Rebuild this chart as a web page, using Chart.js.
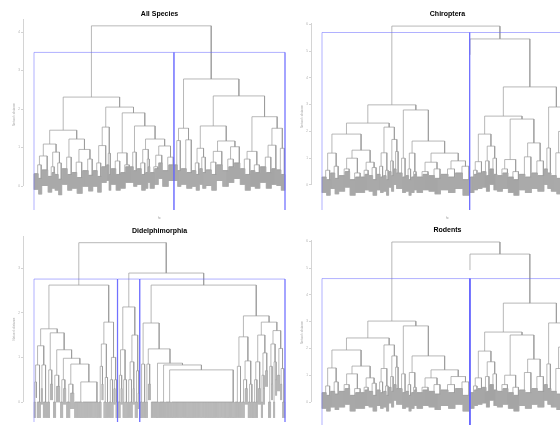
<!DOCTYPE html>
<html>
<head>
<meta charset="utf-8">
<script src="https://cdn.jsdelivr.net/npm/chart.js@4.4.1/dist/chart.umd.min.js"></script>
<style>
  body { margin: 0; background: #fff; width: 560px; height: 434px; overflow: hidden; position: relative; }
  canvas { position: absolute; }
</style>
</head>
<body>
<canvas id="allSpecies"></canvas>
<canvas id="chiroptera"></canvas>
<canvas id="didelphimorphia"></canvas>
<canvas id="rodents"></canvas>
<script>
// Trees: [height, left, right] is a merge, [height, n] is n leaves joined at the
// same height, a plain 1 is a single leaf.
const allSpeciesTree =
  [4.16,
    [2.31,
      [1.45,
        [1.09,
          [0.78, [0.55, [0.32, 9], [0.2, 7]], [0.42, 12]],
          [0.88, [0.5, [0.25, 8], [0.35, 6]], [0.6, [0.3, 7], [0.18, 7]]]],
        [1.22,
          [0.75, [0.45, 11], [0.3, 9]],
          [0.95, [0.62, [0.35, 10], [0.22, 11]], [0.7, [0.4, 12], [0.28, 9]]]]],
      [2.05,
        [1.53, [1.05, [0.6, [0.4, 9], [0.25, 8]], [0.5, 10]], [0.85, [0.55, 5], [0.3, 4]]],
        [1.9,
          [0.86, [0.65, [0.45, 10], [0.3, 9]], [0.55, [0.35, 10], [0.5, 9]]],
          [1.56,
            [0.88, [0.5, 7], [0.4, 7]],
            [1.22,
              [0.95, [0.6, [0.45, 9], [0.3, 8]], [0.7, [0.35, 5], [0.5, 4]]],
              [1.04,
                [0.8, [0.5, [0.35, 9], [0.45, 8]], [0.6, 8]],
                [0.75, [0.4, 12], [0.55, 11]]]]]]]],
    [2.78,
      [1.5, [1.18, [0.55, 7], [0.4, 7]], [1.2, [0.45, 11], [0.35, 11]]],
      [2.34,
        [1.56,
          [0.98, [0.6, [0.4, 8], [0.3, 7]], [0.75, [0.45, 6], [0.35, 7]]],
          [1.17,
            [0.9, [0.62, [0.42, 11], [0.3, 10]], [0.55, 12]],
            [1.02, [0.7, [0.4, 12], [0.5, 11]], [0.6, 12]]]],
        [1.8,
          [0.9, [0.7, [0.45, 10], [0.3, 11]], [0.55, [0.4, 9], [0.35, 10]]],
          [1.5,
            [1.06, [0.75, [0.5, 12], [0.35, 11]], [0.45, 10]],
            [0.98, [0.42, 9], [0.3, 8]]]]]]];

const chiropteraTree =
  [5.93,
    [2.99,
      [2.31,
        [1.9,
          [1.19, [0.55, [0.3, 9], [0.2, 8]], [0.7, [0.45, 9], [0.25, 8]]],
          [1.3,
            [1.0, [0.6, [0.35, 12], [0.5, 10]], [0.45, [0.2, 11], [0.3, 11]]],
            [0.85, [0.55, [0.3, 8], [0.4, 8]], [0.65, [0.35, 8], [0.2, 8]]]]],
        [2.16,
          [1.2, [0.7, [0.4, 7], [0.3, 6]], [0.55, [0.35, 6], [0.2, 5]]],
          [1.7, [0.9, [0.5, 5], [0.35, 5]], [1.25, [0.6, 5], [0.45, 5]]]]],
      [2.8,
        [1.0, [0.45, 7], [0.3, 7]],
        [1.64,
          [1.19, [0.6, [0.35, 6], [0.2, 5]], [0.5, [0.3, 6], [0.4, 5]]],
          [1.19,
            [0.85, [0.5, [0.3, 12], [0.4, 12]], [0.6, [0.35, 12], [0.25, 12]]],
            [0.9, [0.6, [0.4, 15], [0.3, 14]], [0.7, [0.45, 15], [0.2, 14]]]]]]],
    [5.45,
      1,
      [3.66,
        [2.57,
          [1.9,
            [0.87, [0.55, [0.3, 8], [0.4, 7]], [0.45, 9]],
            [1.45, [0.9, [0.5, 8], [0.35, 7]], [1.0, [0.6, 8], [0.4, 7]]]],
          [2.46,
            [0.95, [0.6, [0.35, 11], [0.45, 11]], [0.5, [0.3, 11], [0.2, 11]]],
            [1.57, [1.05, [0.4, 12], [0.3, 13]], [0.9, [0.45, 12], [0.35, 13]]]]],
        [2.91,
          [1.38, [0.6, 7], [0.45, 7]],
          [2.0, [1.2, [0.35, 11], [0.25, 11]], [0.9, [0.5, 11], [0.4, 11]]]]]]];

const didelphimorphiaTree =
  [3.57,
    [2.62,
      [1.64,
        [1.26, [0.83, [0.45, [0, 2], 1], [0, 4]], [0.83, [0.3, 2], [0, 4]]],
        [1.55,
          [0.72, [0, 3], [0.4, 3]],
          [1.17,
            [0.6, [0, 3], [0.35, 4]],
            [0.98,
              [0.5, [0, 3], [0.3, 3]],
              [0.85,
                [0.4, [0, 4], [0.2, 4]],
                [0.45, [0, 8], [0, 16]]]]]]],
      [1.79,
        [1.3, [0.8, [0, 3], [0.4, 2]], [0.55, [0, 3], [0, 2]]],
        [1.0, [0.5, [0, 3], [0, 2]], [0.5, [0.3, 2], [0, 2]]]]],
    [2.89,
      [2.13,
        [1.17, [0.6, [0, 3], [0.3, 2]], [0.5, [0, 2], [0, 3]]],
        [1.5, [0.9, [0.5, [0, 2], [0, 3]], [0.3, 2]], [0.7, [0, 3], [0.2, 2]]]],
      [2.62,
        [1.77,
          [0.85, [0, 3], [0, 3]],
          [1.19,
            [0.85, [0, 2], [0.4, 3]],
            [0.87, [0, 8], [0.83, [0, 6], [0.72, [0, 6], [0, 63]]]]]],
        [1.93,
          [1.46,
            [0.8, [0, 4], [0, 3]],
            [0.92, [0.5, [0, 3], [0.3, 3]], [0.4, [0, 3], [0, 2]]]],
          [1.79,
            [1.5, [0.9, [0.5, [0, 3], [0, 2]], [0.3, 3]], [1.1, [0.6, [0, 2], [0.3, 2]], [0.7, 3]]],
            [1.6, [1.3, [0.8, [0, 3], [0.4, 2]], [0.9, [0, 2], [0.5, 2]]], [1.2, [0.6, 3], [0.75, [0.4, 2], [0, 3]]]]]]]]];

const rodentsTree =
  [5.97,
    [3.02,
      [2.39,
        [1.94,
          [1.27, [0.6, [0.35, 9], [0.25, 8]], [0.75, [0.4, 9], [0.3, 8]]],
          [1.34,
            [1.05, [0.65, [0.4, 12], [0.5, 10]], [0.5, [0.25, 11], [0.35, 11]]],
            [0.9, [0.55, [0.35, 8], [0.45, 8]], [0.7, [0.4, 8], [0.25, 8]]]]],
        [2.13,
          [1.25, [0.75, [0.45, 7], [0.35, 6]], [0.6, [0.4, 6], [0.25, 5]]],
          [1.72, [0.95, [0.55, 5], [0.4, 5]], [1.3, [0.65, 5], [0.5, 5]]]]],
      [2.84,
        [1.05, [0.5, 7], [0.35, 7]],
        [1.72,
          [1.1, [0.65, [0.4, 6], [0.25, 5]], [0.55, [0.35, 6], [0.45, 5]]],
          [1.2,
            [0.9, [0.55, [0.35, 12], [0.45, 12]], [0.65, [0.4, 12], [0.3, 12]]],
            [0.95, [0.65, [0.45, 15], [0.35, 14]], [0.75, [0.5, 15], [0.25, 14]]]]]]],
    [5.52,
      1,
      [3.69,
        [2.61,
          [1.9,
            [0.9, [0.6, [0.35, 8], [0.45, 7]], [0.5, 9]],
            [1.5, [0.95, [0.55, 8], [0.4, 7]], [1.05, [0.65, 8], [0.45, 7]]]],
          [2.5,
            [1.0, [0.65, [0.4, 11], [0.5, 11]], [0.55, [0.35, 11], [0.25, 11]]],
            [1.6, [1.1, [0.45, 12], [0.35, 13]], [0.95, [0.5, 12], [0.4, 13]]]]],
        [2.95,
          [1.42, [0.65, 7], [0.5, 7]],
          [2.05, [1.25, [0.4, 11], [0.3, 11]], [0.95, [0.55, 11], [0.45, 11]]]]]]];

const panelTitles = ['All Species', 'Chiroptera', 'Didelphimorphia', 'Rodents'];
const yTickValues = [[0, 1, 2, 3, 4], [0, 1, 2, 3, 4, 5, 6], [0, 1, 2, 3], [0, 1, 2, 3, 4, 5, 6]];
const clusterCounts = [2, 2, 3, 3];
const yAxisTitle = 'Network distance';
const xAxisTitle = 'hc';

// page layout of the four panels (pixels)
const panels = [
  {id: 'allSpecies', tree: allSpeciesTree, left: 0, top: 0, width: 300, height: 222, axisX: 23,
   leafL: 34, leafR: 285, chartTop: 19, chartBottom: 210, titleY: 14, yMin: -0.623, yMax: 4.338, xLabel: true},
  {id: 'chiroptera', tree: chiropteraTree, left: 288, top: 0, width: 300, height: 222, axisX: 311,
   leafL: 322, leafR: 573, chartTop: 23, chartBottom: 210, titleY: 14, yMin: -0.933, yMax: 6.045, xLabel: true},
  {id: 'didelphimorphia', tree: didelphimorphiaTree, left: 0, top: 222, width: 300, height: 212, axisX: 23,
   leafL: 34, leafR: 285, chartTop: 236, chartBottom: 422, titleY: 231, yMin: -0.448, yMax: 3.72, xLabel: false},
  {id: 'rodents', tree: rodentsTree, left: 288, top: 222, width: 300, height: 212, axisX: 311,
   leafL: 322, leafR: 573, chartTop: 240, chartBottom: 425, titleY: 230, yMin: -0.858, yMax: 6.045, xLabel: false},
];

Chart.defaults.font.family = "'Liberation Sans', Arial, sans-serif";

function layoutTree(tree) {
  let count = 0;
  function place(node) {
    if (typeof node === 'number') {
      count++;
      return {x: count, h: -Infinity, first: count, last: count, leaf: true};
    }
    if (node.length === 2) {
      // leaves merged one after another at the same height (like hclust ties)
      const first = count + 1;
      let x = first;
      for (let i = 1; i < node[1]; i++) x = (x + first + i) / 2;
      count += node[1];
      return {x: x, h: node[0], first: first, last: count};
    }
    const a = place(node[1]);
    const b = place(node[2]);
    return {x: (a.x + b.x) / 2, h: node[0], first: a.first, last: b.last, kids: [a, b]};
  }
  const root = place(tree);
  return {root: root, n: count};
}

function treeLines(node, hang, links, leaves) {
  if (node.leaf) return;
  if (!node.kids) {
    links.push({x: node.first, y: node.h}, {x: node.last, y: node.h}, {x: node.last, y: null});
    for (let i = node.first; i <= node.last; i++) {
      leaves.push({x: i, y: node.h}, {x: i, y: node.h - hang}, {x: i, y: null});
    }
    return;
  }
  const a = node.kids[0], b = node.kids[1];
  const end = c => c.leaf ? node.h - hang : c.h;
  links.push({x: a.x, y: end(a)}, {x: a.x, y: node.h}, {x: b.x, y: node.h},
             {x: b.x, y: end(b)}, {x: b.x, y: null});
  treeLines(a, hang, links, leaves);
  treeLines(b, hang, links, leaves);
}

// like rect.hclust: split the highest merges until k groups
function clusterRects(root, k, yMin) {
  let groups = [root];
  let lastCut = root.h;
  while (groups.length < k) {
    let best = 0;
    groups.forEach((g, i) => { if (g.h > groups[best].h) best = i; });
    lastCut = groups[best].h;
    groups.splice(best, 1, groups[best].kids[0], groups[best].kids[1]);
  }
  const next = Math.max(...groups.map(g => g.h));
  const cut = (lastCut + next) / 2;
  const pts = [];
  groups.forEach(g => {
    const x0 = g.first - 1 + 0.66, x1 = g.last + 0.33;
    pts.push({x: x0, y: yMin}, {x: x0, y: cut}, {x: x1, y: cut}, {x: x1, y: yMin}, {x: x1, y: null});
  });
  return pts;
}

const axisLine = {
  id: 'axisLine',
  afterDraw(chart) {
    const s = chart.scales.y, ctx = chart.ctx;
    ctx.save();
    ctx.strokeStyle = '#d4d4d4';
    ctx.lineWidth = 1;
    ctx.beginPath();
    ctx.moveTo(s.right + 0.5, chart.chartArea.top);
    ctx.lineTo(s.right + 0.5, s.getPixelForValue(0));
    ctx.stroke();
    ctx.restore();
  }
};

panels.forEach((p, i) => {
  const canvas = document.getElementById(p.id);
  canvas.width = p.width;
  canvas.height = p.height;
  canvas.style.left = p.left + 'px';
  canvas.style.top = p.top + 'px';

  const t = layoutTree(p.tree);
  const hang = 0.1 * t.root.h;
  const links = [], leaves = [];
  treeLines(t.root, hang, links, leaves);
  const rects = clusterRects(t.root, clusterCounts[i], p.yMin);

  const k = (p.leafR - p.leafL) / (t.n - 0.33);
  const chartRight = p.leafR + (p.leafL - p.axisX);
  const xMin = 0.66 - (p.leafL - p.axisX) / k;
  const xMax = t.n + 0.33 + (chartRight - p.leafR) / k;
  const ticks = yTickValues[i];

  new Chart(canvas, {
    type: 'scatter',
    data: {
      datasets: [
        {data: rects, showLine: true, borderColor: 'rgba(100,100,255,0.5)', borderWidth: 1, pointRadius: 0},
        {data: links, showLine: true, borderColor: '#999999', borderWidth: 0.7, pointRadius: 0},
        {data: leaves, showLine: true, borderColor: '#a6a6a6', borderWidth: 0.45, pointRadius: 0},
      ]
    },
    options: {
      responsive: false,
      animation: false,
      events: [],
      layout: {padding: {left: 0, top: 0, bottom: 0, right: p.width - (chartRight - p.left)}},
      plugins: {legend: {display: false}, tooltip: {enabled: false}},
      scales: {
        x: {
          type: 'linear', min: xMin, max: xMax,
          grid: {display: false}, border: {display: false}, ticks: {display: false},
          title: {display: p.xLabel, text: xAxisTitle, color: '#999', font: {size: 3}, padding: {top: 0, bottom: 2.2}},
          afterFit: s => { s.height = p.top + p.height - p.chartBottom; }
        },
        xTop: {
          type: 'linear', position: 'top', min: 0, max: 1,
          grid: {display: false}, border: {display: false}, ticks: {display: false},
          title: {display: true, text: panelTitles[i], color: '#000',
                  font: {size: 7, weight: 'bold'}, padding: {top: p.titleY - p.top - 4.2, bottom: 0}},
          afterFit: s => { s.height = p.chartTop - p.top; }
        },
        y: {
          type: 'linear', min: p.yMin, max: p.yMax,
          afterBuildTicks: s => { s.ticks = ticks.map(v => ({value: v})); },
          grid: {drawOnChartArea: false, drawTicks: true, tickLength: 2, color: '#d4d4d4'},
          border: {display: false},
          ticks: {color: '#aaa', font: {size: 3}, padding: 1},
          title: {display: true, text: yAxisTitle, color: '#aaa', font: {size: 3}, padding: {top: 12.2, bottom: 0}},
          afterFit: s => { s.width = p.axisX - p.left; }
        }
      }
    },
    plugins: [axisLine]
  });
});
</script>
</body>
</html>
